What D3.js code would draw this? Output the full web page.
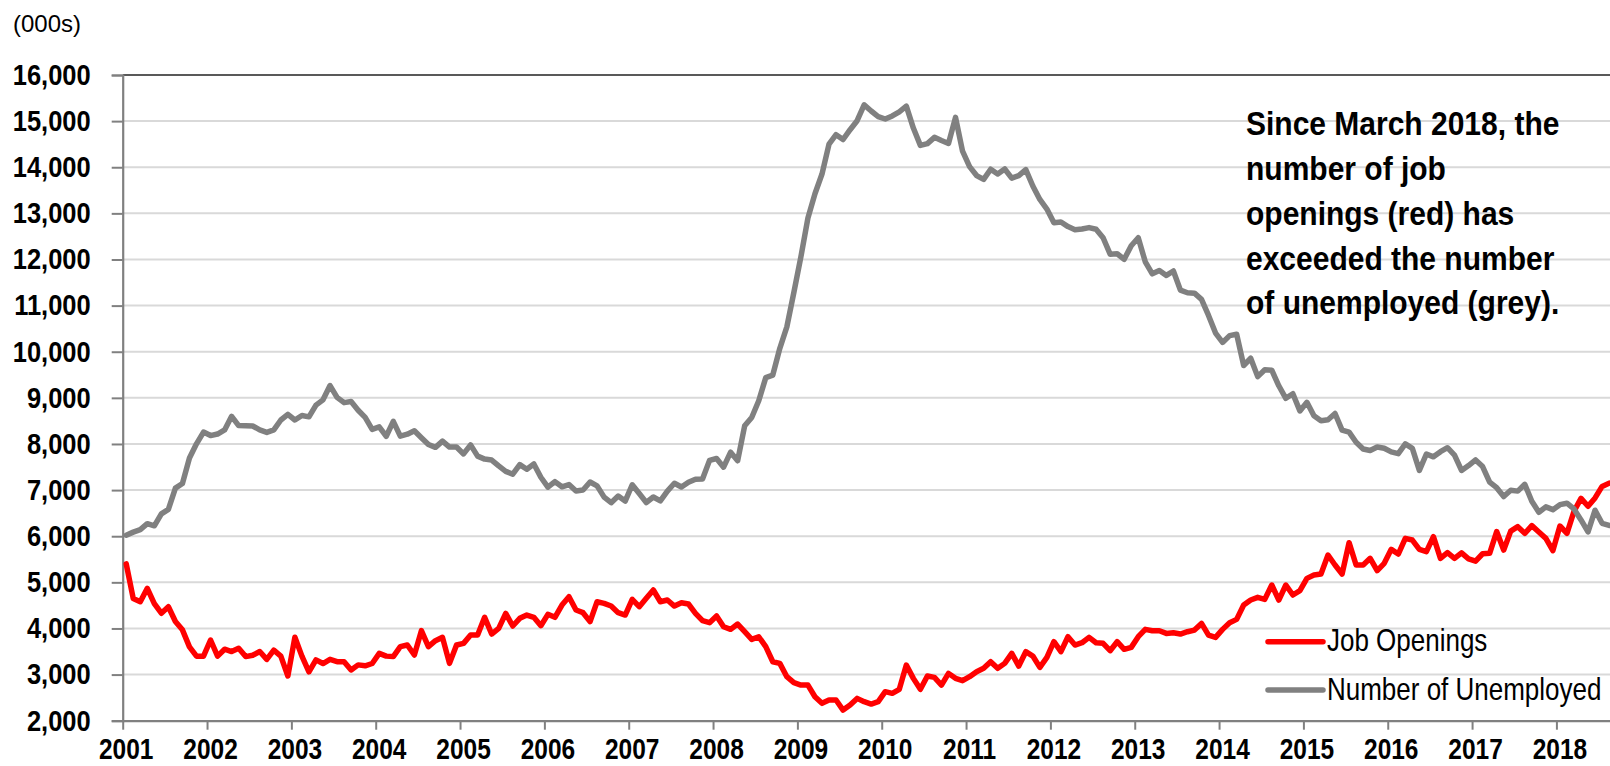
<!DOCTYPE html>
<html><head><meta charset="utf-8">
<script src="https://cdn.jsdelivr.net/npm/d3@7"></script>
<style>
body{margin:0;background:#fff;}
svg{display:block;font-family:"Liberation Sans",Arial,Helvetica,sans-serif;}
</style>
</head><body>
<svg id="chart" width="1610" height="766"></svg>
<script>
// ---------------- DATA ----------------
const yearLabels = ["2001","2002","2003","2004","2005","2006","2007","2008","2009",
  "2010","2011","2012","2013","2014","2015","2016","2017","2018"];
const yTickValues = [2000,3000,4000,5000,6000,7000,8000,9000,10000,11000,12000,13000,14000,15000,16000];
const unitLabel = "(000s)";
const seriesNames = ["Job Openings", "Number of Unemployed"];
const seriesColors = ["#ff0000", "#808080"];
const annotationLines = ["Since March 2018, the", "number of job", "openings (red) has",
  "exceeded the number", "of unemployed (grey)."];

// Monthly values, Jan 2001 - Aug 2018 (thousands)
const jobOpenings = [
  5400,4650,4580,4870,4540,4330,4470,4150,3970,3600,3400,3400,
  3750,3400,3550,3500,3570,3390,3420,3500,3330,3530,3400,2970,
  3810,3400,3060,3320,3240,3330,3280,3280,3100,3210,3190,3240,
  3460,3400,3390,3605,3641,3424,3952,3605,3735,3807,3243,3641,
  3677,3858,3858,4241,3879,4002,4327,4053,4219,4291,4241,4060,
  4306,4241,4508,4689,4400,4342,4147,4580,4544,4486,4342,4291,
  4631,4472,4653,4833,4580,4617,4486,4559,4530,4327,4168,4125,
  4270,4038,3981,4096,3930,3764,3821,3605,3279,3243,2954,2824,
  2773,2773,2520,2376,2448,2448,2231,2340,2484,2412,2361,2412,
  2629,2593,2680,3207,2918,2680,2969,2940,2773,3026,2918,2867,
  2954,3062,3135,3279,3135,3243,3460,3185,3496,3402,3156,3373,
  3713,3496,3821,3641,3691,3807,3691,3677,3518,3713,3547,3590,
  3821,3980,3951,3951,3893,3908,3879,3929,3965,4110,3857,3807,
  3980,4125,4197,4508,4616,4674,4631,4942,4616,4942,4725,4819,
  5086,5158,5180,5592,5375,5180,5860,5375,5375,5520,5253,5412,
  5715,5614,5953,5917,5715,5665,5990,5520,5643,5520,5640,5510,
  5460,5620,5630,6100,5700,6110,6207,6062,6230,6090,5953,5690,
  6221,6062,6540,6821,6650,6830,7080,7150
];
const unemployed = [
  6023,6089,6141,6271,6226,6484,6583,7042,7142,7694,8003,8258,
  8182,8215,8304,8599,8399,8393,8390,8304,8251,8307,8520,8640,
  8520,8618,8588,8842,8957,9266,9011,8896,8921,8732,8576,8317,
  8370,8167,8491,8170,8212,8286,8136,7990,7927,8061,7932,7934,
  7784,7980,7737,7672,7651,7524,7406,7345,7553,7453,7566,7279,
  7064,7184,7072,7120,6980,7001,7175,7091,6847,6727,6872,6762,
  7116,6927,6731,6850,6766,6979,7149,7067,7170,7237,7240,7645,
  7685,7497,7822,7637,8395,8575,8937,9438,9494,10074,10538,11286,
  12058,12898,13426,13853,14499,14707,14601,14814,15009,15352,15219,15098,
  15046,15113,15202,15325,14849,14474,14512,14648,14579,14516,15081,14348,
  14013,13820,13737,13957,13855,13962,13763,13818,13948,13594,13302,13093,
  12797,12813,12713,12646,12660,12692,12656,12471,12115,12124,12005,12298,
  12471,11950,11689,11760,11654,11751,11335,11279,11270,11136,10787,10404,
  10202,10349,10380,9702,9859,9460,9608,9599,9262,8990,9090,8717,
  8903,8610,8504,8526,8661,8299,8256,8037,7892,7859,7935,7907,
  7829,7791,8003,7906,7428,7783,7721,7832,7919,7760,7426,7531,
  7653,7511,7174,7052,6860,6996,6978,7125,6759,6520,6637,6576,
  6684,6716,6592,6353,6094,6564,6280,6234
];

// ---------------- LAYOUT ----------------
const W = 1610, H = 766;
const plotLeft = 122.7, plotTop = 75, plotBottom = 720.7;
const monthPx = 7.028;
const nMonths = 212;

const svg = d3.select("#chart");
const x = d3.scaleLinear().domain([0, nMonths]).range([plotLeft, plotLeft + nMonths * monthPx]);
const y = d3.scaleLinear().domain([2000, 16000]).range([plotBottom, plotTop]);

// gridlines
svg.append("g").selectAll("line")
  .data(yTickValues.filter(v => v > 2000))
  .join("line")
  .attr("x1", plotLeft).attr("x2", W)
  .attr("y1", d => y(d)).attr("y2", d => y(d))
  .attr("stroke", d => d === 16000 ? "#595959" : "#d9d9d9")
  .attr("stroke-width", 2);

// y axis
const yAxis = svg.append("g")
  .attr("transform", `translate(${plotLeft},0)`)
  .call(d3.axisLeft(y).tickValues(yTickValues).tickFormat(d3.format(",")).tickSize(11).tickPadding(21));
yAxis.select(".domain").attr("stroke", "#808080").attr("stroke-width", 2.2);
yAxis.selectAll(".tick line").attr("stroke", "#808080").attr("stroke-width", 2);
yAxis.selectAll(".tick text")
  .attr("fill", "#000").attr("font-size", 25.5).attr("font-weight", "bold")
  .attr("font-family", "Liberation Sans, Arial, sans-serif")
  .attr("transform", "scale(1,1.15)");

// x axis
const xTicks = yearLabels.map((_, k) => k * 12);
const xAxis = svg.append("g")
  .attr("transform", `translate(0,${plotBottom})`)
  .call(d3.axisBottom(x).tickValues(xTicks).tickFormat(d => yearLabels[d / 12]).tickSize(9).tickSizeOuter(0));
xAxis.select(".domain").attr("stroke", "#808080").attr("stroke-width", 2.2);
xAxis.selectAll(".tick line").attr("stroke", "#808080").attr("stroke-width", 2);
xAxis.selectAll(".tick text")
  .attr("fill", "#000").attr("font-size", 24.5).attr("font-weight", "bold")
  .attr("font-family", "Liberation Sans, Arial, sans-serif")
  .attr("x", 3).attr("y", 31.8).attr("dy", 0)
  .attr("transform", "scale(1,1.2)");

// unit label
svg.append("text").attr("x", 13).attr("y", 31.5)
  .attr("font-size", 24).attr("fill", "#000").text(unitLabel);

// lines
const line = d3.line().x((d, i) => x(i + 0.5)).y(d => y(d));
[jobOpenings, unemployed].forEach((s, k) => {
  svg.append("path").datum(s)
    .attr("d", line)
    .attr("fill", "none")
    .attr("stroke", seriesColors[k])
    .attr("stroke-width", 5.5)
    .attr("stroke-linejoin", "round")
    .attr("stroke-linecap", "round");
});

// legend
const legendY = [641.7, 690];
const legendTextY = [650.7, 700];
seriesNames.forEach((name, k) => {
  svg.append("line")
    .attr("x1", 1268).attr("x2", 1323)
    .attr("y1", legendY[k]).attr("y2", legendY[k])
    .attr("stroke", seriesColors[k]).attr("stroke-width", 5.5).attr("stroke-linecap", "round");
  svg.append("text")
    .attr("transform", `translate(1327,${legendTextY[k]}) scale(1,1.19)`)
    .attr("font-size", 26).attr("fill", "#000").text(name);
});

// annotation
const annBase = [135, 180, 225, 269.5, 313.5];
annotationLines.forEach((t, k) => {
  svg.append("text")
    .attr("transform", `translate(1246,${annBase[k]}) scale(1,1.13)`)
    .attr("font-size", 30).attr("font-weight", "bold").attr("fill", "#000").text(t);
});
</script>
</body></html>
